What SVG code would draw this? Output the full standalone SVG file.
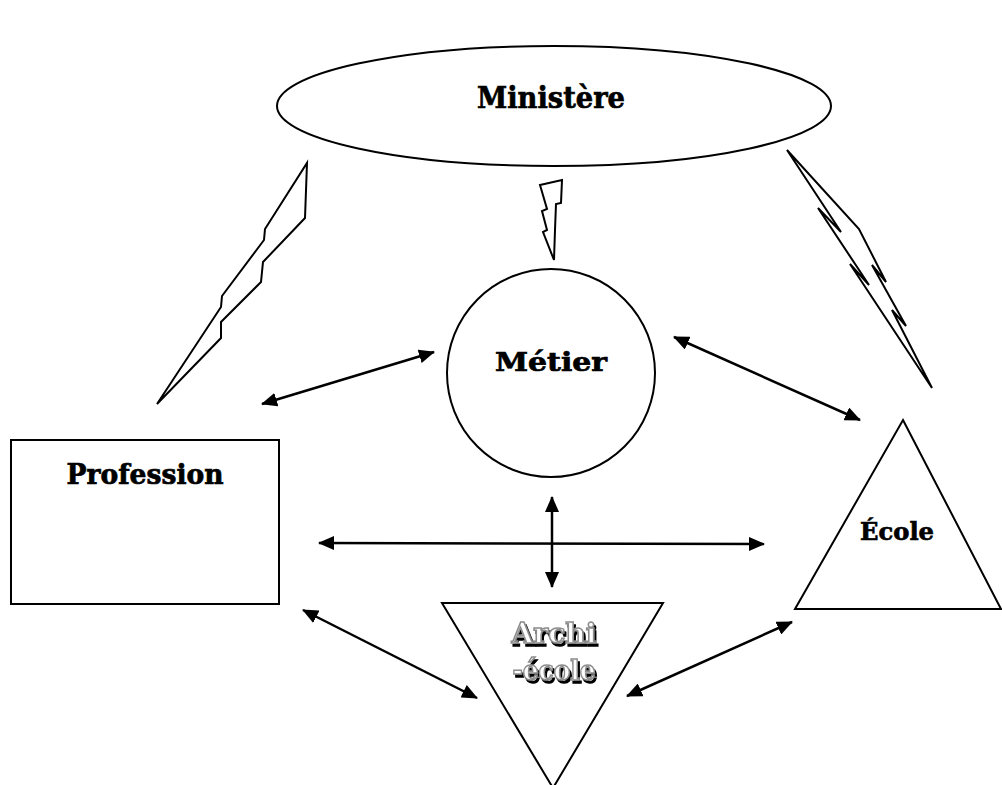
<svg xmlns="http://www.w3.org/2000/svg" width="1002" height="785" viewBox="0 0 1002 785">
<style>
.shape{fill:#fff;stroke:#000;stroke-width:2}
.bolt{fill:none;stroke:#000;stroke-width:2;stroke-linejoin:miter}
.lbl{font-family:"DejaVu Serif","Liberation Serif",serif;font-weight:bold;fill:#000;stroke:#000;stroke-width:0.7;text-anchor:middle}
.conn{stroke:#000;stroke-width:2.5;fill:none;marker-start:url(#ah);marker-end:url(#ah)}
.sh{font-family:"DejaVu Serif","Liberation Serif",serif;font-weight:bold;text-anchor:middle;fill:#fff;stroke:#8c8c8c;stroke-width:1.5;filter:url(#shadow)}
</style>
<defs>
<marker id="ah" viewBox="0 0 16 14" refX="15" refY="7" markerWidth="16" markerHeight="14" markerUnits="userSpaceOnUse" orient="auto-start-reverse">
<path d="M0,0 L16,7 L0,14 z" fill="#000"/>
</marker>
<filter id="shadow" x="-10%" y="-20%" width="130%" height="150%">
<feOffset in="SourceAlpha" dx="2" dy="3" result="o"/>
<feMerge><feMergeNode in="o"/><feMergeNode in="SourceGraphic"/></feMerge>
</filter>
</defs>
<rect width="1002" height="785" fill="#fff"/>
<g id="ministere">
<ellipse class="shape" cx="554" cy="106" rx="277" ry="60"/>
<text class="lbl" x="551" y="108" font-size="30" textLength="148" lengthAdjust="spacingAndGlyphs">Ministère</text>
</g>
<g id="bolts">
<polygon class="bolt" points="157,404 221,307 222,296 264,240 265,229 307,163 305,218 263,262 261,282 221,322 221,338"/>
<polygon class="bolt" points="540,185 562,180 561,203 556,204 555,230 554,260 543,232 547,230 542,211 547,209"/>
<polygon class="bolt" points="787,150 859,229 886,282 872,265 906,326 892,310 932,388 850,264 869,285 818,208 841,232"/>
</g>
<g id="metier">
<circle class="shape" cx="551" cy="373" r="104"/>
<text class="lbl" x="551" y="371" font-size="26" textLength="112" lengthAdjust="spacingAndGlyphs">Métier</text>
</g>
<g id="profession">
<rect class="shape" x="11" y="440" width="268" height="164"/>
<text class="lbl" x="145" y="484" font-size="27" textLength="157" lengthAdjust="spacingAndGlyphs">Profession</text>
</g>
<g id="ecole">
<polygon class="shape" points="903,420 1001,609 795,609"/>
<text class="lbl" x="897" y="540" font-size="25" textLength="74" lengthAdjust="spacingAndGlyphs">École</text>
</g>
<g id="archi-ecole">
<polygon class="shape" points="442,603 663,603 553,788"/>
<text class="sh" font-size="27" x="554" y="643" textLength="85" lengthAdjust="spacingAndGlyphs">Archi</text>
<text class="sh" font-size="27" x="554" y="680" textLength="83" lengthAdjust="spacingAndGlyphs">-école</text>
</g>
<g id="connectors">
<line class="conn" x1="262" y1="404" x2="434" y2="352"/>
<line class="conn" x1="674" y1="337" x2="860" y2="420"/>
<line class="conn" x1="319" y1="543" x2="764" y2="544"/>
<line class="conn" x1="552" y1="497" x2="552" y2="587"/>
<line class="conn" x1="303" y1="610" x2="477" y2="698"/>
<line class="conn" x1="627" y1="696" x2="792" y2="622"/>
</g>
</svg>
